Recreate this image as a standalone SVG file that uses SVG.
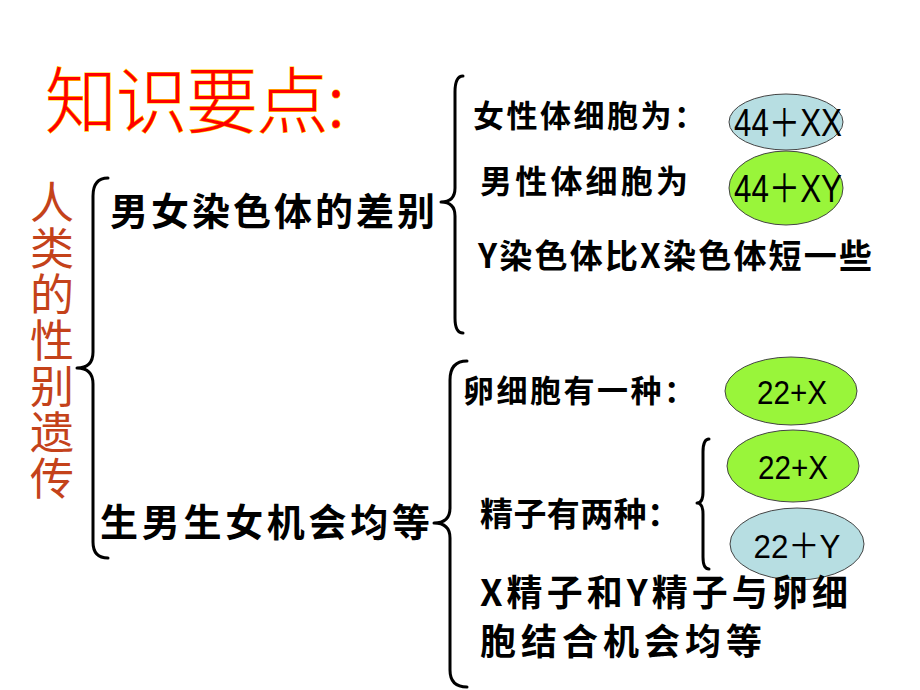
<svg xmlns="http://www.w3.org/2000/svg" width="920" height="690" viewBox="0 0 920 690">
<style>
.t{font-family:"Noto Sans CJK SC","Liberation Sans",sans-serif;font-weight:bold;fill:#000}
.title{font-family:"Noto Sans CJK SC",sans-serif;font-weight:300;fill:#FF0000;stroke:#FFD000;stroke-width:1.2;paint-order:stroke}
.v{font-family:"Noto Sans CJK SC",sans-serif;fill:#C4421A;font-size:44px;letter-spacing:2px}
.e{font-family:"Liberation Sans","Noto Sans CJK SC",sans-serif;fill:#000;text-anchor:middle}
.blue{fill:#B7DEE2;stroke:#444;stroke-width:1}
.green{fill:#99F53A;stroke:#444;stroke-width:1}
.brace{fill:none;stroke:#000;stroke-width:3;stroke-linecap:round;stroke-linejoin:round}
</style>
<rect width="920" height="690" fill="#fff"/>
<g id="title"><text class="title" x="45" y="127" font-size="72" textLength="300">知识要点:</text></g>
<g id="topic"><text class="v" x="52" y="180" writing-mode="tb">人类的性别遗传</text></g>
<g id="connectors">
<path class="brace" d="M108,178 Q93,178 93,196 L93,352 Q93,368 77,368 Q93,368 93,384 L93,542 Q93,558 108,558"/>
<path class="brace" d="M463,76 Q455,76 455,92 L455,188 Q455,202 441,202 Q455,202 455,216 L455,318 Q455,333 463,333"/>
<path class="brace" d="M467,361 Q450,361 450,380 L450,508 Q450,523 434,523 Q450,523 450,538 L450,670 Q450,687 467,687"/>
<path class="brace" d="M709,439 Q703,439 703,452 L703,492 Q703,503 697,503 Q703,503 703,514 L703,557 Q703,569 709,569"/>
</g>
<g id="diff"><text class="t" x="110" y="225" font-size="38" textLength="325">男女染色体的差别</text></g>
<g id="equal"><text class="t" x="100" y="536" font-size="38" textLength="330">生男生女机会均等</text></g>
<g id="female"><text class="t" x="473" y="127" font-size="31" textLength="232">女性体细胞为：</text></g>
<g id="xx"><ellipse class="blue" cx="786" cy="122" rx="57" ry="28"/><text class="e" x="788" y="136" font-size="38" textLength="108" lengthAdjust="spacingAndGlyphs">44＋XX</text></g>
<g id="male"><text class="t" x="480" y="193" font-size="32" textLength="208">男性体细胞为</text></g>
<g id="xy"><ellipse class="green" cx="786" cy="188" rx="57" ry="37"/><text class="e" x="788" y="202" font-size="39" textLength="108" lengthAdjust="spacingAndGlyphs">44＋XY</text></g>
<g id="short"><text class="t" x="478" y="268" font-size="33" textLength="394">Y染色体比X染色体短一些</text></g>
<g id="egg"><text class="t" x="463" y="402" font-size="31" textLength="232">卵细胞有一种：</text></g>
<g id="egg22x"><ellipse class="green" cx="791" cy="391" rx="66" ry="34"/><text class="e" x="792" y="404" font-size="34" textLength="70" lengthAdjust="spacingAndGlyphs">22+X</text></g>
<g id="sperm"><text class="t" x="480" y="526" font-size="33" textLength="200">精子有两种：</text></g>
<g id="sp22x"><ellipse class="green" cx="793" cy="466" rx="66" ry="36"/><text class="e" x="793" y="479" font-size="34" textLength="70" lengthAdjust="spacingAndGlyphs">22+X</text></g>
<g id="sp22y"><ellipse class="blue" cx="797" cy="544" rx="67" ry="36"/><text class="e" x="797" y="558" font-size="34" textLength="87" lengthAdjust="spacingAndGlyphs">22＋Y</text></g>
<g id="combine"><text class="t" font-size="36"><tspan x="480" y="606" textLength="368">X精子和Y精子与卵细</tspan><tspan x="480" y="655" textLength="282">胞结合机会均等</tspan></text></g>
</svg>
